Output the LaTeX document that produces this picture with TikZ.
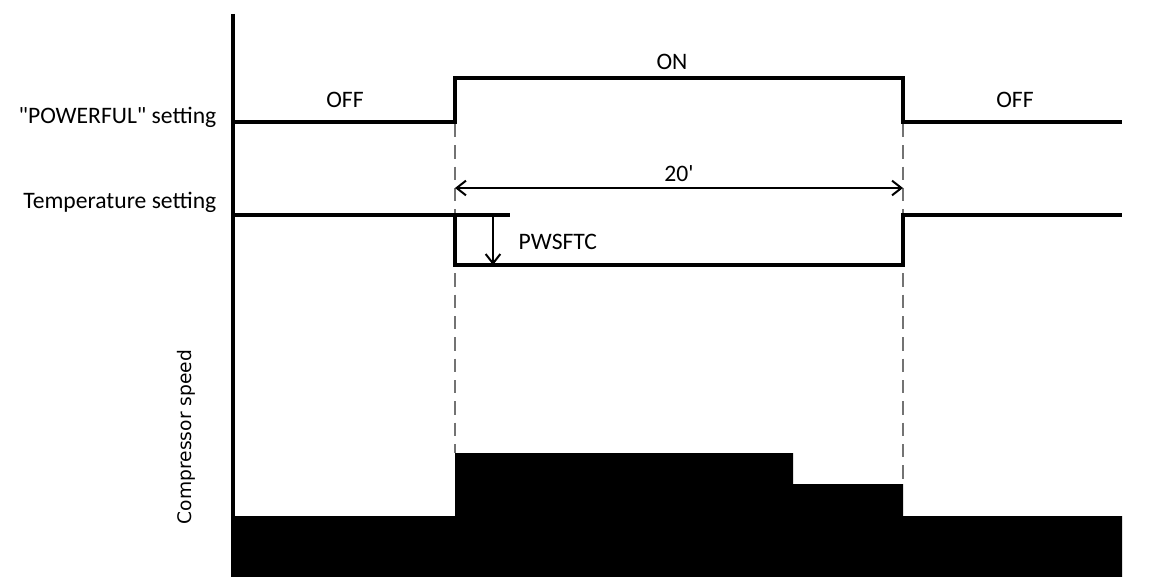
\documentclass[tikz,border=0pt]{standalone}
\usepackage{fontspec}
\setmainfont{Carlito}
\newfontfamily\axisfont{DejaVu Sans}
\usetikzlibrary{arrows.meta,positioning}

\begin{document}
\begin{tikzpicture}[
  x=0.75pt, y=-0.75pt,
  >={Straight Barb[length=7pt,width=11pt]},
  font=\fontsize{17.7}{21}\selectfont,
  signal/.style={line width=2.5pt, black},
  guide/.style={dash pattern=on 10pt off 6pt, black!55, line width=0.9pt},
  span/.style={<->, line width=1.5pt, black},
  drop/.style={->, line width=1.5pt, black},
  speedfill/.style={fill=black, draw=none}
]
\useasboundingbox (0,0) rectangle (1163,577);

% Trục dọc
\draw[signal] (233,14) -- (233,577);

% Tín hiệu chế độ POWERFUL
\node[anchor=east] (powerlbl) at (221,117) {\textquotedbl POWERFUL\textquotedbl\ setting};
\draw[signal] (233,122) -- (455,122) -- (455,78) -- (903,78) -- (903,122) -- (1122,122);
\node (offleft) at (345,100) {OFF};
\node (onmid) at (672,62) {ON};
\node (offright) at (1015,100) {OFF};

% Đường gióng nét đứt
\draw[guide] (455,124) -- (455,453);
\draw[guide] (903,124) -- (903,484);

% Khoảng thời gian 20 phút
\coordinate (spanA) at (455,188);
\coordinate (spanB) at (903,188);
\draw[span] (spanA) -- node[above=1pt] (spanlbl) {20\textquotesingle} (spanB);

% Tín hiệu nhiệt độ đặt
\node[anchor=east] (templbl) at (221,202) {Temperature setting};
\draw[signal] (233,215) -- (510,215);
\draw[signal] (455,215) -- (455,265) -- (903,265) -- (903,215) -- (1122,215);

% Mức giảm PWSFTC
\coordinate (dropA) at (493,215);
\coordinate (dropB) at (493,265);
\draw[drop] (dropA) -- (dropB);
\node[anchor=west] (droplbl) at (514,242) {PWSFTC};

% Tốc độ máy nén
\node[rotate=90, font=\axisfont\fontsize{14}{16}\selectfont] (speedlbl) at (186,437) {Compressor speed};
\fill[speedfill] (233,577) -- (233,516) -- (455,516) -- (455,453) -- (793,453) -- (793,484)
  -- (903,484) -- (903,516) -- (1122,516) -- (1122,577) -- cycle;

\end{tikzpicture}
\end{document}
